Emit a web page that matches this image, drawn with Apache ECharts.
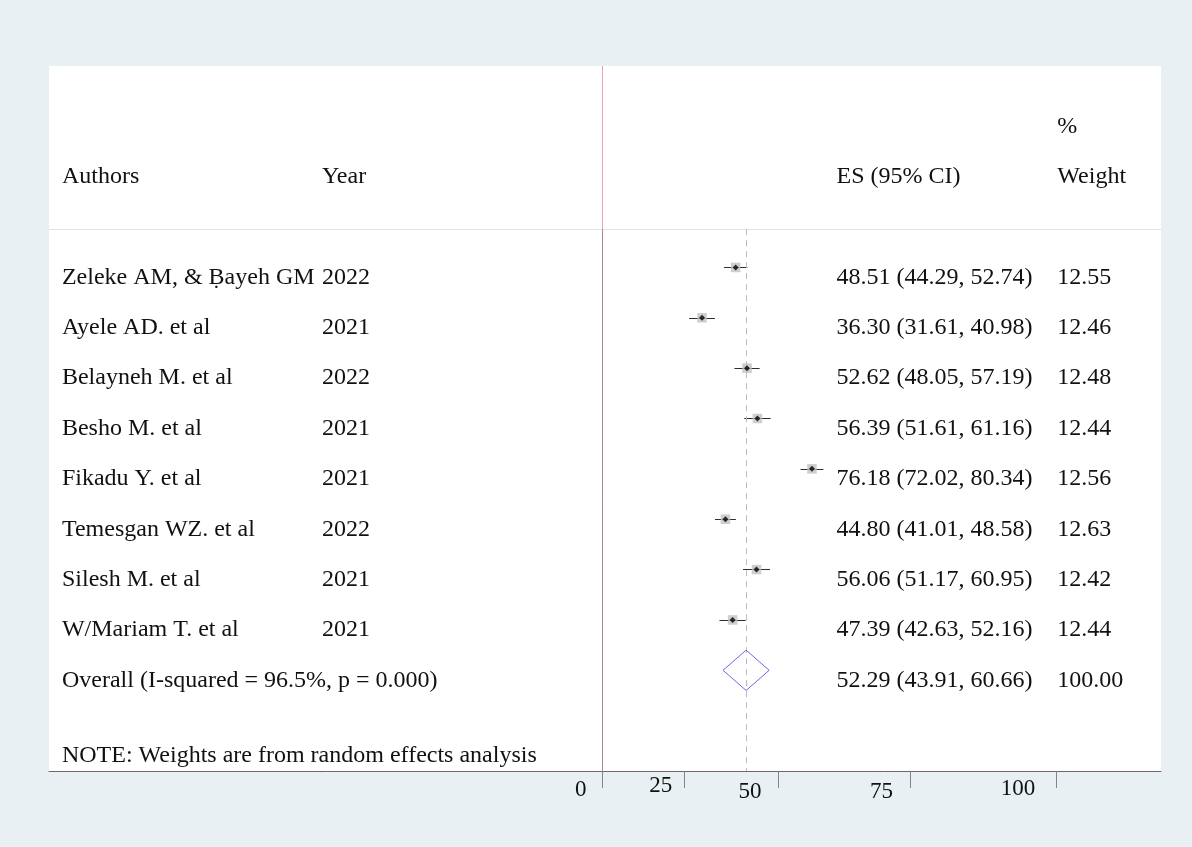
<!DOCTYPE html>
<html>
<head>
<meta charset="utf-8">
<title>Forest plot</title>
<script src="https://cdn.jsdelivr.net/npm/echarts@6/dist/echarts.min.js"></script>
<style>
  html, body { margin: 0; padding: 0; background: #e8f0f3; }
  #chart { width: 1192px; height: 847px; }
</style>
</head>
<body>
<div id="chart"></div>
<script>
// Study-level estimates (prevalence, %) with 95% confidence intervals
const authors = [
  'Zeleke AM, & Ḅayeh GM',
  'Ayele AD. et al',
  'Belayneh M. et al',
  'Besho M. et al',
  'Fikadu Y. et al',
  'Temesgan WZ. et al',
  'Silesh M. et al',
  'W/Mariam T. et al'
];
const years   = ['2022', '2021', '2022', '2021', '2021', '2022', '2021', '2021'];
const es      = [48.51, 36.30, 52.62, 56.39, 76.18, 44.80, 56.06, 47.39];
const lower   = [44.29, 31.61, 48.05, 51.61, 72.02, 41.01, 51.17, 42.63];
const upper   = [52.74, 40.98, 57.19, 61.16, 80.34, 48.58, 60.95, 52.16];
const weights = [12.55, 12.46, 12.48, 12.44, 12.56, 12.63, 12.42, 12.44];

// Pooled random-effects estimate
const overallES     = 52.29;
const overallLower  = 43.91;
const overallUpper  = 60.66;
const overallWeight = 100.00;
const overallLabel  = 'Overall (I-squared = 96.5%, p = 0.000)';
const noteText      = 'NOTE: Weights are from random effects analysis';

// Header texts
const headers = { author: 'Authors', year: 'Year', es: 'ES (95% CI)', weightTop: '%', weight: 'Weight' };

// Axis tick labels
const tickLabels = ['0', '25', '50', '75', '100'];

// ---- layout (axis units) ----
const X_MIN = -200.6, X_MAX = 202.8;          // x axis range, 0 = null line
const Y_MIN = -4, Y_MAX = 10;                  // row axis (inverted)
const COL = { author: -195.9, year: -101.6, es: 85.1, weight: 165.2 };
const ROW_HEADER = -2, ROW_PCT = -3, ROW_OVERALL = es.length, ROW_NOTE = 9.5;
const SEP_Y = -0.76;
const axisTickAt  = [0, 29.7, 63.8, 111.7, 164.7];
const axisLabelAt = [-7.7, 21.3, 53.7, 101.4, 150.9];
const labelPadTop = [7, 3, 9, 9, 6];
const TEXT_DY = 10;
const FONT = '"Liberation Serif", "Times New Roman", serif';
const fmt = v => v.toFixed(2);

// Text cells of the table part
const cells = [];
cells.push({ c: 'author', r: ROW_HEADER, t: headers.author });
cells.push({ c: 'year', r: ROW_HEADER, t: headers.year });
cells.push({ c: 'es', r: ROW_HEADER, t: headers.es });
cells.push({ c: 'weight', r: ROW_PCT, t: headers.weightTop });
cells.push({ c: 'weight', r: ROW_HEADER, t: headers.weight });
authors.forEach((a, i) => {
  cells.push({ c: 'author', r: i, t: a });
  cells.push({ c: 'year', r: i, t: years[i] });
  cells.push({ c: 'es', r: i, t: `${fmt(es[i])} (${fmt(lower[i])}, ${fmt(upper[i])})` });
  cells.push({ c: 'weight', r: i, t: fmt(weights[i]) });
});
cells.push({ c: 'author', r: ROW_OVERALL, t: overallLabel });
cells.push({ c: 'es', r: ROW_OVERALL, t: `${fmt(overallES)} (${fmt(overallLower)}, ${fmt(overallUpper)})` });
cells.push({ c: 'weight', r: ROW_OVERALL, t: fmt(overallWeight) });
cells.push({ c: 'author', r: ROW_NOTE, t: noteText });

const rows = authors.map((_, i) => i);

const chart = echarts.init(document.getElementById('chart'), null, { renderer: 'canvas' });

chart.setOption({
  backgroundColor: '#e8f0f3',
  animation: false,
  grid: {
    left: 49, right: 31, top: 66, bottom: 76,
    show: true, backgroundColor: '#ffffff', borderWidth: 0
  },
  xAxis: {
    type: 'value', min: X_MIN, max: X_MAX,
    splitLine: { show: false },
    axisLine: { show: true, onZero: false, lineStyle: { color: '#6a6a6a', width: 1 } },
    axisTick: {
      show: true, customValues: axisTickAt, length: 17,
      lineStyle: { color: '#858585', width: 1 }
    },
    axisLabel: {
      show: true, customValues: axisLabelAt, margin: 0,
      formatter: v => {
        let k = 0;
        axisLabelAt.forEach((p, j) => { if (Math.abs(p - v) < Math.abs(axisLabelAt[k] - v)) k = j; });
        return `{t${k}|${tickLabels[k]}}`;
      },
      rich: Object.fromEntries(tickLabels.map((_, k) => [
        't' + k,
        { fontFamily: FONT, fontSize: 23, color: '#111', padding: [labelPadTop[k], 0, 0, 0] }
      ]))
    }
  },
  yAxis: {
    type: 'value', min: Y_MIN, max: Y_MAX, inverse: true, show: false
  },
  series: [
    // confidence-interval whiskers
    {
      type: 'lines', coordinateSystem: 'cartesian2d', silent: true, z: 3,
      lineStyle: { color: '#2e2e2e', width: 1.2, opacity: 1 },
      data: rows.map(i => ({ coords: [[lower[i], i], [upper[i], i]] }))
    },
    // weight boxes
    {
      type: 'scatter', silent: true, z: 4,
      symbol: 'rect',
      symbolSize: (v, p) => 2.7 * Math.sqrt(weights[p.dataIndex]),
      itemStyle: { color: '#c2c2c2' },
      data: rows.map(i => [es[i], i])
    },
    // point estimates
    {
      type: 'scatter', silent: true, z: 5,
      symbol: 'diamond', symbolSize: 6,
      itemStyle: { color: '#000000' },
      data: rows.map(i => [es[i], i]),
      markLine: {
        silent: true, symbol: ['none', 'none'], label: { show: false },
        data: [
          [{ coord: [X_MIN, SEP_Y], lineStyle: { color: '#e2e2e2', width: 1, type: 'solid' } },
           { coord: [X_MAX, SEP_Y] }],
          [{ coord: [0, Y_MIN], lineStyle: { color: '#f2a3ab', width: 1, type: 'solid' } },
           { coord: [0, SEP_Y] }],
          [{ coord: [0, SEP_Y], lineStyle: { color: '#ad8a8f', width: 1, type: 'solid' } },
           { coord: [0, Y_MAX] }],
          [{ coord: [overallES, SEP_Y], lineStyle: { color: '#cdb3bb', width: 1, type: [6, 5] } },
           { coord: [overallES, Y_MAX] }]
        ]
      }
    },
    // pooled estimate diamond
    {
      type: 'custom', silent: true, z: 6,
      data: [[overallES, ROW_OVERALL, overallLower, overallUpper]],
      renderItem: (params, api) => {
        const y = api.value(1), c = api.value(0);
        const pts = [
          api.coord([api.value(2), y]),
          api.coord([c, y - 0.4]),
          api.coord([api.value(3), y]),
          api.coord([c, y + 0.4])
        ];
        return {
          type: 'polygon',
          shape: { points: pts },
          style: { fill: 'none', stroke: '#6a6ae0', lineWidth: 1 }
        };
      }
    },
    // table text
    {
      type: 'custom', silent: true, z: 7,
      data: cells.map(cell => [COL[cell.c], cell.r]),
      renderItem: (params, api) => {
        const cell = cells[params.dataIndex];
        const p = api.coord([api.value(0), api.value(1)]);
        return {
          type: 'text',
          x: p[0], y: p[1] + TEXT_DY,
          style: {
            text: cell.t, fill: '#111111',
            font: `24px ${FONT}`,
            align: 'left', verticalAlign: 'middle'
          }
        };
      }
    }
  ]
});
</script>
</body>
</html>
